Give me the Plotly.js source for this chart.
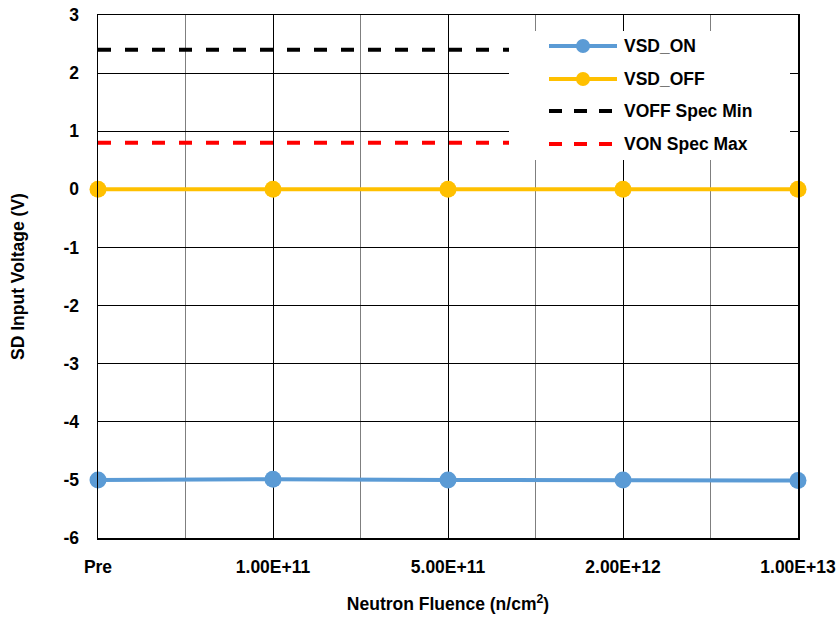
<!DOCTYPE html>
<html>
<head>
<meta charset="utf-8">
<script src="https://cdn.plot.ly/plotly-3.0.1.min.js"></script>
<style>
  html, body { margin: 0; padding: 0; background: #fff; }
  #chart { width: 840px; height: 619px; }
</style>
</head>
<body>
<div id="chart"></div>
<script>
// Fluence steps along the x axis
const categories = ['Pre', '1.00E+11', '5.00E+11', '2.00E+12', '1.00E+13'];

// Measured SD input voltages (V)
const vsdOn  = [-5.00, -4.99, -5.00, -5.00, -5.01];
const vsdOff = [0.00, 0.00, 0.00, 0.00, 0.00];

// Specification limits (V)
const voffSpecMin = [2.4, 2.4, 2.4, 2.4, 2.4];
const vonSpecMax  = [0.8, 0.8, 0.8, 0.8, 0.8];

const yTicks = [3, 2, 1, 0, -1, -2, -3, -4, -5, -6];

const xPos = categories.map((_, i) => i);
const midPos = categories.slice(1).map((_, i) => i + 0.5);

const FONT = 'Arial, "Liberation Sans", sans-serif';
const FS = 17.5;
const boldFont = { family: FONT, size: FS, color: '#000', weight: 'bold' };

const W = 840, H = 619;
const M = { l: 98, r: 42, t: 15, b: 81 };
const plotW = W - M.l - M.r, plotH = H - M.t - M.b;
// pixel position -> paper fraction (for the legend box)
const px = v => (v - M.l) / plotW;
const py = v => (H - M.b - v) / plotH;

const DASH = '13px,14px';

const series = [
  { name: 'VSD_ON', y: vsdOn, color: '#5B9BD5', marker: true, dash: 'solid' },
  { name: 'VSD_OFF', y: vsdOff, color: '#FFC000', marker: true, dash: 'solid' },
  { name: 'VOFF Spec Min', y: voffSpecMin, color: '#000000', marker: false, dash: DASH },
  { name: 'VON Spec Max', y: vonSpecMax, color: '#FF0000', marker: false, dash: DASH }
];

const traces = series.map(s => ({
  name: s.name, x: xPos, y: s.y,
  mode: s.marker ? 'lines+markers' : 'lines',
  line: { color: s.color, width: s.marker ? 4 : 4, dash: s.dash },
  marker: { color: s.color, size: 17 },
  cliponaxis: !s.marker ? true : false,
  showlegend: false
}));

// Legend panel: white box, sample line, optional dot and label per series
const shapes = [{
  type: 'rect', xref: 'paper', yref: 'paper', layer: 'above',
  x0: px(509), x1: px(790), y0: py(160), y1: py(31),
  fillcolor: '#ffffff', line: { width: 0 }
}];
const annotations = [];
const rowY = [46, 79, 111, 144];
series.forEach((s, i) => {
  const yy = py(rowY[i]);
  shapes.push({
    type: 'line', xref: 'paper', yref: 'paper', layer: 'above',
    x0: px(549), x1: px(617), y0: yy, y1: yy,
    line: { color: s.color, width: 4, dash: s.marker ? 'solid' : '13px,12px' }
  });
  if (s.marker) {
    shapes.push({
      type: 'circle', xref: 'paper', yref: 'paper', layer: 'above',
      xsizemode: 'pixel', ysizemode: 'pixel',
      xanchor: px(583), yanchor: yy, x0: -7, x1: 7, y0: -7, y1: 7,
      fillcolor: s.color, line: { width: 0 }
    });
  }
  annotations.push({
    xref: 'paper', yref: 'paper', x: px(622), y: yy,
    xanchor: 'left', yanchor: 'middle', showarrow: false,
    text: s.name, font: boldFont
  });
});

const layout = {
  width: W, height: H,
  margin: M,
  paper_bgcolor: '#ffffff', plot_bgcolor: '#ffffff',
  font: { family: FONT, size: FS, color: '#000' },
  showlegend: false,
  shapes: shapes,
  annotations: annotations,
  xaxis: {
    range: [0, 4],
    tickvals: xPos, ticktext: categories,
    tickfont: boldFont,
    ticks: '', ticklabelstandoff: 12,
    showgrid: true, gridcolor: '#000', gridwidth: 1,
    minor: { tickvals: midPos, showgrid: true, gridcolor: '#7f7f7f', gridwidth: 1.2, ticks: '' },
    showline: true, linecolor: '#000', linewidth: 1.5, mirror: true,
    zeroline: false, fixedrange: true,
    title: {
      text: 'Neutron Fluence (n/cm<sup>2</sup>)',
      font: boldFont,
      standoff: 22
    }
  },
  yaxis: {
    range: [-6, 3],
    tickvals: yTicks, ticktext: yTicks.map(v => String(v)),
    tickfont: boldFont,
    ticks: '', ticklabelstandoff: 14,
    showgrid: true, gridcolor: '#000', gridwidth: 1,
    showline: true, linecolor: '#000', linewidth: 1.5, mirror: true,
    zeroline: false, fixedrange: true,
    title: {
      text: 'SD Input Voltage (V)',
      font: boldFont,
      standoff: 34
    }
  }
};

Plotly.newPlot('chart', traces, layout, { displayModeBar: false, staticPlot: true });
</script>
</body>
</html>
